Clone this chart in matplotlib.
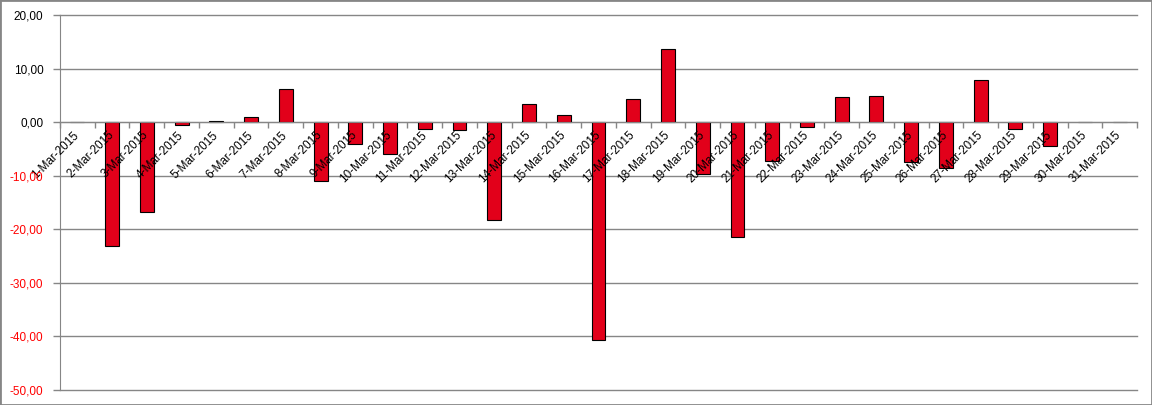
import matplotlib.pyplot as plt
import matplotlib.patches as patches
import numpy as np

plt.rcParams['font.family'] = ['Liberation Sans', 'DejaVu Sans']

#Data
days = ['%d-Mar-2015' % d for d in range(1, 32)]
values = [0.0, -23.1, -16.8, -0.6, 0.2, 0.9, 6.2, -11.0, -4.1, -6.0,
          -1.35, -1.5, -18.2, 3.3, 1.25, -40.6, 4.25, 13.7, -9.7, -21.4,
          -7.3, -1.0, 4.6, 4.95, -7.5, -8.6, 7.9, -1.2, -4.45, 0.0, 0.0]
yticks = [-50, -40, -30, -20, -10, 0, 10, 20]

GRID = '#868686'
BAR = '#E2001A'

fig = plt.figure(figsize=(11.52, 4.05), dpi=100)
ax = fig.add_axes([60/1152, 1 - 390/405, (1137 - 60)/1152, 375/405])

x = np.arange(len(days))
ax.bar(x, values, width=0.4, color=BAR, edgecolor='black', linewidth=0.8, zorder=2)

ax.set_xlim(-0.5, len(days) - 0.5)
ax.set_ylim(-50, 20)

#gridlines under the bars, axis (and its labels) over them
for v in yticks:
    ax.axhline(v, color=GRID, linewidth=1, zorder=0.5, clip_on=False)
ax.set_axisbelow(False)

#y axis
ax.set_yticks(yticks)
ax.set_yticklabels([('%.2f' % v).replace('.', ',') for v in yticks])
for lab, v in zip(ax.get_yticklabels(), yticks):
    lab.set_color('red' if v < 0 else 'black')
ax.tick_params(axis='y', length=5, width=1, color=GRID, pad=7, labelsize=8.5)

#x axis sits on the zero line
for s in ['top', 'right']:
    ax.spines[s].set_visible(False)
ax.spines['left'].set_color(GRID)
ax.spines['bottom'].set_color(GRID)
ax.spines['bottom'].set_position(('data', 0))

ax.set_xticks(np.arange(-0.5, len(days), 1))
ax.set_xticklabels([])
ax.tick_params(axis='x', which='major', length=4, width=1, color=GRID)
ax.set_xticks(x, minor=True)
ax.set_xticklabels(days, minor=True)
ax.tick_params(axis='x', which='minor', length=0, pad=8, labelsize=8.5)
for lab in ax.get_xticklabels(minor=True):
    lab.set_rotation(45)
    lab.set_ha('right')
    lab.set_va('center')
    lab.set_rotation_mode('anchor')

#chart border
fig.add_artist(patches.Rectangle((0, 0), 1, 1, transform=fig.transFigure,
                                 fill=False, edgecolor=GRID, linewidth=2))

plt.savefig('out.png', dpi=100)
